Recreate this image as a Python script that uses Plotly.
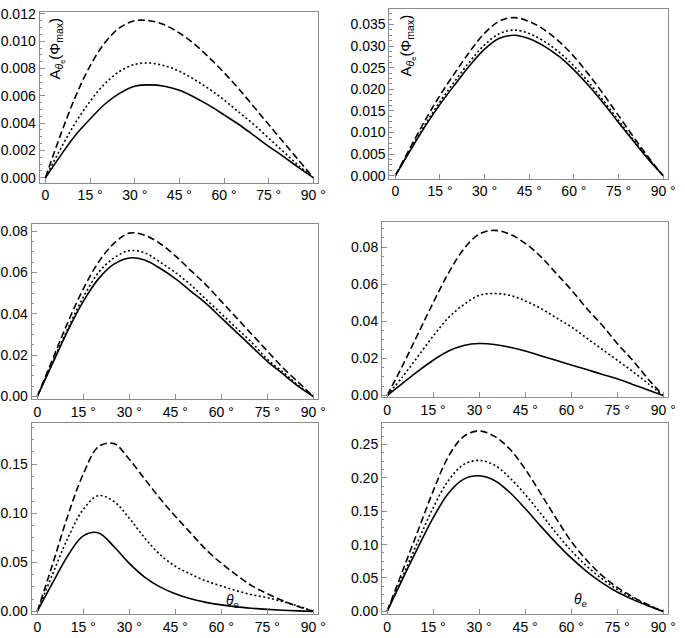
import plotly.graph_objects as go

theta = [0, 5, 10, 15, 20, 25, 30, 35, 40, 45, 50, 55, 60, 65, 70, 75, 80, 85, 90]

# Panel 1 (top left)
p1_solid  = [0, 0.0016, 0.0031, 0.0043, 0.0054, 0.0062, 0.0067, 0.0068, 0.0067, 0.0064, 0.0059, 0.0053, 0.0046, 0.0039, 0.0031, 0.0023, 0.00155, 0.00075, 0]
p1_dotted = [0, 0.0021, 0.0040, 0.0056, 0.0069, 0.0078, 0.0083, 0.0084, 0.0082, 0.0078, 0.0072, 0.0065, 0.0057, 0.0048, 0.0039, 0.0029, 0.0019, 0.0009, 0]
p1_dashed = [0, 0.0031, 0.0059, 0.0082, 0.0099, 0.0110, 0.0115, 0.0115, 0.0112, 0.0106, 0.0098, 0.0088, 0.0077, 0.0065, 0.0052, 0.0039, 0.0026, 0.0013, 0]

# Panel 2 (top right)
p2_solid  = [0, 0.0058, 0.0114, 0.0165, 0.0211, 0.0255, 0.0293, 0.0318, 0.0325, 0.0317, 0.0300, 0.0276, 0.0245, 0.0208, 0.0167, 0.0123, 0.0080, 0.0038, 0]
p2_dotted = [0, 0.0060, 0.0118, 0.0171, 0.0219, 0.0264, 0.0303, 0.0329, 0.0337, 0.0329, 0.0311, 0.0286, 0.0254, 0.0216, 0.0173, 0.0128, 0.0083, 0.0040, 0]
p2_dashed = [0, 0.0065, 0.0128, 0.0186, 0.0238, 0.0287, 0.0330, 0.0358, 0.0366, 0.0357, 0.0338, 0.0311, 0.0276, 0.0234, 0.0188, 0.0139, 0.0090, 0.0043, 0]

# Panel 3 (middle left)
p3_solid  = [0, 0.016, 0.032, 0.046, 0.057, 0.064, 0.067, 0.066, 0.062, 0.057, 0.051, 0.045, 0.038, 0.031, 0.024, 0.017, 0.011, 0.005, 0]
p3_dotted = [0, 0.0165, 0.033, 0.048, 0.060, 0.067, 0.0705, 0.0695, 0.065, 0.060, 0.054, 0.047, 0.040, 0.033, 0.026, 0.018, 0.012, 0.0055, 0]
p3_dashed = [0, 0.018, 0.036, 0.052, 0.065, 0.074, 0.079, 0.078, 0.074, 0.068, 0.061, 0.054, 0.046, 0.038, 0.030, 0.022, 0.014, 0.007, 0]

# Panel 4 (middle right)
p4_solid  = [0, 0.0065, 0.013, 0.019, 0.024, 0.027, 0.028, 0.0275, 0.026, 0.024, 0.0215, 0.019, 0.0165, 0.014, 0.0115, 0.009, 0.006, 0.003, 0]
p4_dotted = [0, 0.010, 0.021, 0.032, 0.042, 0.049, 0.054, 0.055, 0.054, 0.051, 0.047, 0.042, 0.037, 0.031, 0.025, 0.019, 0.013, 0.0065, 0]
p4_dashed = [0, 0.016, 0.033, 0.050, 0.066, 0.079, 0.087, 0.089, 0.087, 0.082, 0.075, 0.066, 0.057, 0.047, 0.038, 0.028, 0.019, 0.009, 0]

# Panel 5 (bottom left)
p5_solid  = [0, 0.029, 0.057, 0.077, 0.080, 0.066, 0.049, 0.035, 0.025, 0.018, 0.0128, 0.0092, 0.0066, 0.0046, 0.0032, 0.0021, 0.0012, 0.0005, 0]
p5_dotted = [0, 0.038, 0.075, 0.104, 0.118, 0.112, 0.095, 0.075, 0.058, 0.046, 0.038, 0.031, 0.026, 0.021, 0.017, 0.014, 0.010, 0.0055, 0]
p5_dashed = [0, 0.048, 0.098, 0.140, 0.168, 0.171, 0.155, 0.135, 0.115, 0.097, 0.080, 0.063, 0.049, 0.037, 0.026, 0.018, 0.011, 0.005, 0]

# Panel 6 (bottom right)
p6_solid  = [0, 0.048, 0.095, 0.140, 0.177, 0.198, 0.203, 0.196, 0.178, 0.154, 0.128, 0.103, 0.080, 0.060, 0.043, 0.029, 0.018, 0.0085, 0]
p6_dotted = [0, 0.052, 0.104, 0.155, 0.196, 0.220, 0.226, 0.219, 0.200, 0.175, 0.147, 0.118, 0.091, 0.068, 0.049, 0.033, 0.020, 0.0095, 0]
p6_dashed = [0, 0.060, 0.120, 0.180, 0.232, 0.262, 0.270, 0.262, 0.243, 0.213, 0.177, 0.140, 0.105, 0.077, 0.054, 0.036, 0.022, 0.010, 0]

x_tickvals = [0, 15, 30, 45, 60, 75, 90]
x_ticktext = ["0", "15 °", "30 °", "45 °", "60 °", "75 °", "90 °"]

panels = [
    (p1_solid, p1_dotted, p1_dashed),
    (p2_solid, p2_dotted, p2_dashed),
    (p3_solid, p3_dotted, p3_dashed),
    (p4_solid, p4_dotted, p4_dashed),
    (p5_solid, p5_dotted, p5_dashed),
    (p6_solid, p6_dotted, p6_dashed),
]

# layout (pixel frames: left, right, top, bottom), axis ranges, ticks
W, H = 685, 638
frames = [(40, 322, 6, 180), (394, 676, 3, 176),
          (32, 322, 222, 400.7), (386.5, 675.5, 220, 399),
          (32, 322, 425, 620), (386.5, 676, 425, 620)]
xranges = [[-2.0, 91.66], [-2.0, 91.66], [-1.84, 91.6], [-1.67, 91.4], [-1.84, 91.6], [-1.67, 91.6]]
yranges = [[-0.00036, 0.01215], [-0.0007, 0.0386], [-0.0013, 0.0835],
           [-0.00106, 0.0936], [-0.003, 0.192], [-0.0044, 0.282]]
ydticks = [0.002, 0.005, 0.02, 0.02, 0.05, 0.05]
yfmts = [".3f", ".3f", ".2f", ".2f", ".2f", ".2f"]

styles = [dict(color="black", width=1.6),
          dict(color="black", width=1.6, dash="2px,2.5px"),
          dict(color="black", width=1.6, dash="7px,3.5px")]

fig = go.Figure()
FRAME = "#8c8c8c"
font = dict(family="Liberation Sans, Arial, sans-serif", size=14, color="black")

for i, (series, fr) in enumerate(zip(panels, frames)):
    n = "" if i == 0 else str(i + 1)
    for s, st in zip(series, styles):
        fig.add_trace(go.Scatter(x=theta, y=s, mode="lines", line=dict(shape="spline", **st),
                                 xaxis="x" + n, yaxis="y" + n, showlegend=False, hoverinfo="skip"))
    l, r, t, b = fr
    fig.layout["xaxis" + n] = dict(
        domain=[l / W, r / W], anchor="y" + n, range=xranges[i],
        tickvals=x_tickvals, ticktext=x_ticktext, ticks="inside", ticklen=5, tickcolor=FRAME,
        showline=True, linecolor=FRAME, linewidth=1, mirror=True,
        showgrid=False, zeroline=False, tickfont=font)
    fig.layout["yaxis" + n] = dict(
        domain=[1 - b / H, 1 - t / H], anchor="x" + n, range=yranges[i],
        tick0=0, dtick=ydticks[i], tickformat=yfmts[i], ticks="inside", ticklen=5, tickcolor=FRAME,
        minor=dict(dtick=ydticks[i] / 4, ticks="inside", ticklen=2.5, tickcolor=FRAME, showgrid=False),
        showline=True, linecolor=FRAME, linewidth=1, mirror=True,
        showgrid=False, zeroline=False, tickfont=font)

ylabel = "A<sub><i>θ</i><sub>e</sub></sub>(Φ<sub>max</sub>)"
for (px, py) in [(57, 43), (412, 40)]:
    fig.add_annotation(x=px / W, y=1 - py / H, xref="paper", yref="paper", text=ylabel,
                       xanchor="center", yanchor="middle",
                       textangle=-90, showarrow=False, font=dict(family="Liberation Sans, Arial", size=15, color="black"))
for (px, py) in [(236, 606), (588, 605)]:
    fig.add_annotation(x=px / W, y=1 - py / H, xref="paper", yref="paper", text="<i>θ</i><sub>e</sub>",
                       xanchor="center", yanchor="middle",
                       showarrow=False, font=dict(family="Liberation Sans, Arial", size=14, color="black"))

fig.update_layout(width=W, height=H, margin=dict(l=0, r=0, t=0, b=0),
                  plot_bgcolor="white", paper_bgcolor="white")
fig.write_html("out.html", config={"displayModeBar": False},
               post_script="document.body.style.margin='0';document.body.style.overflow='hidden';")
